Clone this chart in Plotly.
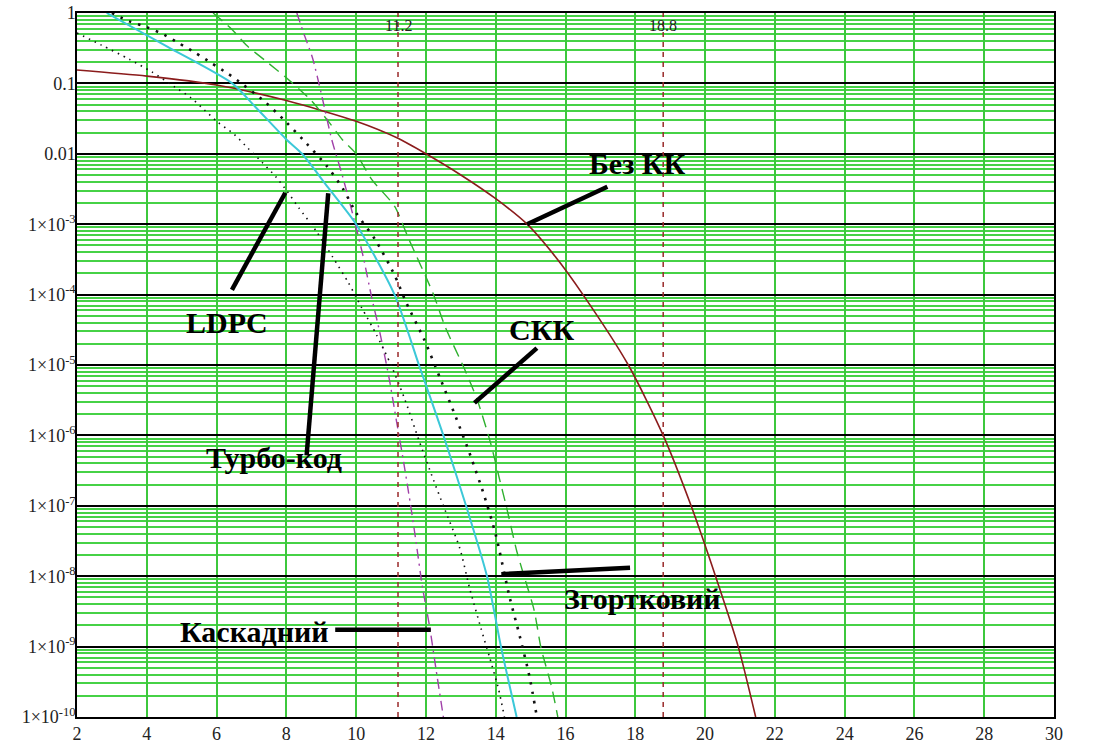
import math
import plotly.graph_objects as go

# Eb/N0, dB -> bit error probability for each coding scheme
snr_uncoded = [2, 4, 6, 8, 10, 11.2, 12, 13, 14, 14.9, 15.7, 16.5,
               17.8, 18.8, 19.6, 20.3, 20.95, 21.45]
ber_uncoded = [0.155, 0.127, 0.095, 0.057, 0.029, 0.0166, 0.01, 5e-3,
               2.3e-3, 1e-3, 3.5e-4, 1e-4, 1e-5, 1e-6, 1e-7, 1e-8, 1e-9, 1e-10]

snr_turbo = [2.85, 4.6, 6.45, 7.1, 8.0, 8.45, 9.2, 10.0, 11.1, 11.8, 12.5,
             13.15, 13.75, 14.15, 14.6]
ber_turbo = [1, 0.33, 0.1, 0.047, 0.016, 0.01, 3.3e-3, 1e-3, 1e-4, 1e-5,
             1e-6, 1e-7, 1e-8, 1e-9, 1e-10]

snr_ldpc = [2.0, 2.7, 3.5, 4.15, 4.8, 5.26, 5.65, 6.04, 6.5, 6.9, 7.3, 7.7,
            8.03, 8.36, 8.86, 9.33, 9.77, 10.16, 10.58, 11.0, 11.4, 11.8,
            12.22, 12.5, 12.97, 13.25, 13.58, 13.83, 14.08, 14.25]
ber_ldpc = [0.52, 0.35, 0.22, 0.145, 0.089, 0.063, 0.042, 0.028, 0.019, 0.012,
            7.6e-3, 4.7e-3, 2.9e-3, 1.7e-3, 7.9e-4, 3.4e-4, 1.5e-4, 6.5e-5,
            2.7e-5, 1e-5, 3.2e-6, 8.5e-7, 2.3e-7, 1e-7, 2.5e-8, 6.8e-9,
            1.8e-9, 6.9e-10, 2.5e-10, 1e-10]

snr_conv = [3.0, 3.5, 4.0, 4.5, 4.93, 5.4, 5.85, 6.3, 6.5, 7.4, 8.0, 8.58,
            9.15, 9.62, 10.0, 10.55, 11.1, 11.44, 11.95, 12.4, 12.86, 13.28,
            13.67, 14.0, 14.4, 14.69, 14.97, 15.18]
ber_conv = [1, 0.76, 0.63, 0.49, 0.37, 0.27, 0.195, 0.14, 0.12, 0.054, 0.028,
            0.014, 6.8e-3, 3.2e-3, 1.45e-3, 6e-4, 1.9e-4, 7.6e-5, 2.3e-5,
            6.6e-6, 1.8e-6, 5.1e-7, 1.4e-7, 3.9e-8, 5e-9, 1.4e-9, 3.7e-10,
            1e-10]

snr_concat = [8.3, 8.5, 8.75, 9.0, 9.3, 9.6, 9.9, 10.2, 10.45, 10.7, 10.95,
              11.15, 11.35, 11.55, 11.72, 11.9, 12.1, 12.28, 12.5]
ber_concat = [1, 0.51, 0.23, 0.072, 0.016, 5e-3, 1.4e-3, 3.5e-4, 8.9e-5,
              2.6e-5, 6.3e-6, 1.66e-6, 4.5e-7, 1.1e-7, 3e-8, 7e-9, 2e-9,
              5.1e-10, 1e-10]

snr_scc = [5.9, 6.45, 6.85, 7.4, 7.95, 8.7, 9.25, 9.6, 10.0, 10.45, 11.1,
           11.5, 12.2, 12.55, 13.1, 13.47, 13.85, 14.1, 14.3, 14.6, 14.8,
           15.1, 15.3, 15.6, 15.78]
ber_scc = [1, 0.58, 0.35, 0.21, 0.126, 0.058, 0.027, 0.016, 0.01, 4.3e-3,
           1.8e-3, 6.3e-4, 1.05e-4, 3.5e-5, 8.9e-6, 3.2e-6, 7.9e-7, 2.5e-7,
           1e-7, 2.3e-8, 1.05e-8, 3.3e-9, 9.5e-10, 2.7e-10, 1e-10]

# reference levels marked by vertical lines
marker_snr = [11.2, 18.8]

x_ticks = list(range(2, 31, 2))
y_decades = [10.0 ** -k for k in range(0, 11)]
y_ticktext = ["1", "0.1", "0.01"] + [f"1×10<sup>-{k}</sup>" for k in range(3, 11)]
y_minor = [m * 10.0 ** -k for k in range(1, 11) for m in range(2, 10)]

# callouts: label text, label position, pointer start and end (dB, BER)
callouts = [
    ("Без КК", 18.05, 7.4e-3, (14.9, 1e-3), (17.2, 3.4e-3)),
    ("LDPC", 6.3, 4.0e-5, (7.97, 2.8e-3), (6.44, 1.17e-4)),
    ("Турбо-код", 7.65, 4.8e-7, (9.2, 2.75e-3), (8.58, 5.2e-7)),
    ("СКК", 15.3, 3.2e-5, (13.39, 2.9e-6), (15.18, 1.74e-5)),
    ("Згортковий", 18.2, 4.9e-9, (14.16, 1.07e-8), (17.85, 1.32e-8)),
    ("Каскадний", 7.1, 1.66e-9, (9.4, 1.74e-9), (12.14, 1.74e-9)),
]

serif = "Liberation Serif, Times New Roman, serif"

fig = go.Figure()

curves = [
    (snr_uncoded, ber_uncoded, dict(color="#8b1c1c", width=1.6)),
    (snr_scc, ber_scc, dict(color="#2fb02f", width=1.4, dash="12px,7px")),
    (snr_concat, ber_concat, dict(color="#a040a8", width=1.4, dash="10px,5px,2px,5px")),
    (snr_ldpc, ber_ldpc, dict(color="#111111", width=1.6, dash="1.5px,5px")),
    (snr_conv, ber_conv, dict(color="#111111", width=2.6, dash="2.5px,7px")),
    (snr_turbo, ber_turbo, dict(color="#3cc8d8", width=2.0)),
]
for xs, ys, ln in curves:
    fig.add_trace(go.Scatter(x=xs, y=ys, mode="lines",
                             line=dict(shape="spline", smoothing=0.7, **ln),
                             hoverinfo="skip", showlegend=False))

for s in marker_snr:
    fig.add_trace(go.Scatter(x=[s, s], y=[y_decades[-1], y_decades[0]], mode="lines",
                             line=dict(color="#9a2a2a", width=1.5, dash="5px,5px"),
                             hoverinfo="skip", showlegend=False))
    fig.add_annotation(x=s, y=0, xref="x", yref="y", text=f"{s}",
                       showarrow=False, yanchor="top", yshift=-2,
                       font=dict(family=serif, size=16, color="#222222"))

for text, tx, ty, p0, p1 in callouts:
    fig.add_trace(go.Scatter(x=[p0[0], p1[0]], y=[p0[1], p1[1]], mode="lines",
                             line=dict(color="black", width=4.5),
                             hoverinfo="skip", showlegend=False))
    fig.add_annotation(x=tx, y=math.log10(ty), xref="x", yref="y",
                       text=f"<b>{text}</b>", showarrow=False,
                       font=dict(family=serif, size=30, color="black"))

fig.update_xaxes(range=[2, 30], tickvals=x_ticks, ticks="",
                 showgrid=True, gridcolor="rgb(60,200,60)", gridwidth=1.5,
                 showline=True, linecolor="black", linewidth=1.5, mirror=True,
                 zeroline=False, automargin=False,
                 tickfont=dict(family=serif, size=18, color="#222222"))
fig.update_yaxes(type="log", range=[-10, 0], tickvals=y_decades,
                 ticktext=y_ticktext, ticks="",
                 showgrid=True, gridcolor="black", gridwidth=1.5,
                 minor=dict(tickvals=y_minor, showgrid=True,
                            gridcolor="rgb(70,210,70)", gridwidth=1.5),
                 showline=True, linecolor="black", linewidth=1.5, mirror=True,
                 zeroline=False, automargin=False, ticklabelstandoff=-4,
                 tickfont=dict(family=serif, size=18, color="#222222"))

fig.update_layout(width=1114, height=746,
                  margin=dict(l=77, r=60, t=13, b=29),
                  paper_bgcolor="white", plot_bgcolor="white")

fig.write_html("out.html")
